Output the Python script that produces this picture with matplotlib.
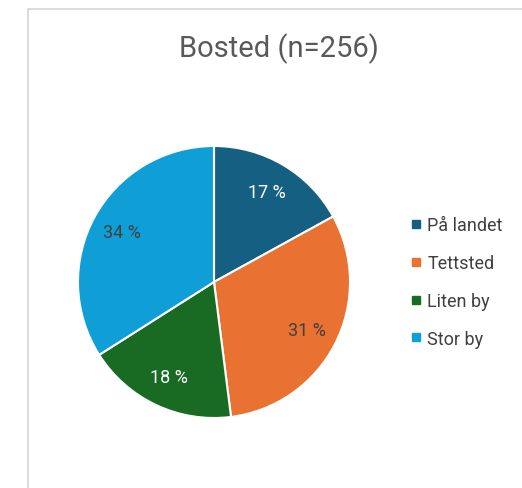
import matplotlib
matplotlib.use("Agg")
import matplotlib.pyplot as plt
from matplotlib.lines import Line2D
from matplotlib.patches import Rectangle

plt.rcParams["font.family"] = ["Roboto", "DejaVu Sans"]

categories = ["På landet", "Tettsted", "Liten by", "Stor by"]
shares = [17, 31, 18, 34]
colors = ["#156082", "#E97132", "#196B24", "#0F9ED5"]
label_colors = ["white", "#404040", "white", "#404040"]
title = "Bosted (n=256)"

W, H = 522, 489
fig = plt.figure(figsize=(W / 100, H / 100), dpi=100)

# chart area border, cut off at the right and bottom edges
fig.patches.append(Rectangle((28 / W, 0 - 0.05), 1.0, 1 - 10 / H + 0.05,
                             transform=fig.transFigure, fill=False,
                             edgecolor="#d9d9d9", linewidth=1.3))

cx, cy, r = 214, 283, 136
ax = fig.add_axes([(cx - r) / W, (H - cy - r) / H, 2 * r / W, 2 * r / H])
wedges, _, autotexts = ax.pie(
    shares, colors=colors, startangle=90, counterclock=False,
    autopct=lambda p: f"{p:.0f} %", pctdistance=0.77, radius=1,
    wedgeprops=dict(edgecolor="white", linewidth=1.5),
)
for t, c in zip(autotexts, label_colors):
    t.set_color(c)
    t.set_fontsize(13)
ax.set_xlim(-1.0, 1.0)
ax.set_ylim(-1.0, 1.0)

fig.text(279 / W, 1 - 49 / H, title, ha="center", va="center",
         fontsize=21, color="#595959")

handles = [Line2D([], [], marker="s", linestyle="none", markersize=6,
                  markerfacecolor=c, markeredgecolor=c) for c in colors]
fig.legend(handles, categories, loc="center left",
           bbox_to_anchor=(393 / W, 1 - 283 / H), frameon=False,
           fontsize=13, labelcolor="#404040", handlelength=0.8,
           handletextpad=0.2, labelspacing=1.1)

fig.savefig("out.png", dpi=100)
